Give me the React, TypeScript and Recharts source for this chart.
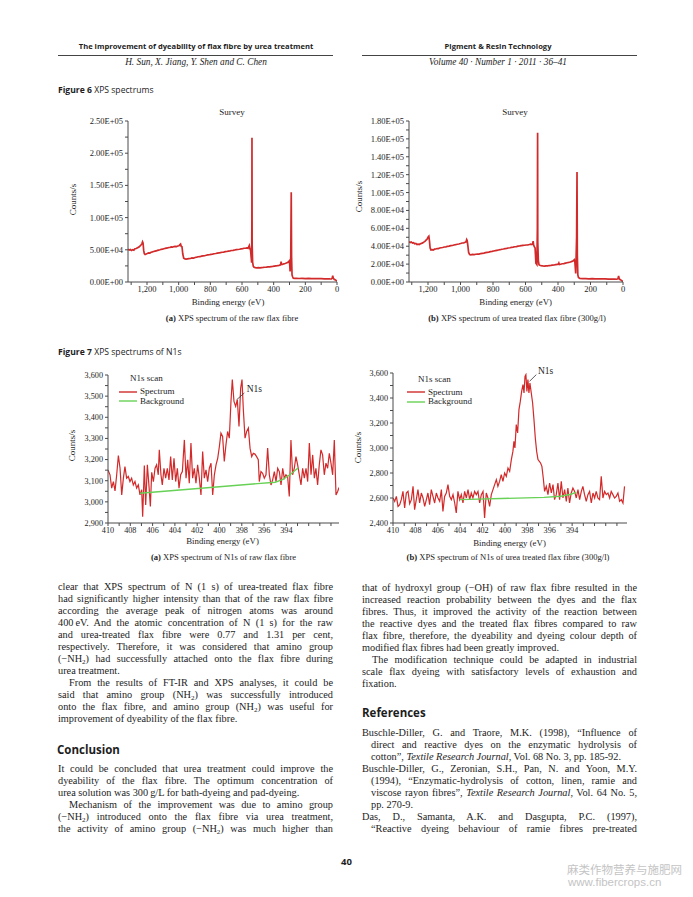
import React from "react";
import { LineChart, Line, XAxis, YAxis, ReferenceLine } from "recharts";

const RED = "#d22a2a";
const GREEN = "#66d155";
const AXIS = "#4a4a4a";
const INK = "#1d1d1d";
const SERIF = "'Liberation Serif', 'Times New Roman', serif";
const SANS = "'Open Sans', 'Liberation Sans', Arial, sans-serif";

// Figure 6(a) survey, raw flax fibre
const rawSurveyEnergy = [
  1320, 1312, 1305, 1298, 1290, 1283, 1276, 1268, 1260, 1252,
  1245, 1238, 1232, 1228, 1225, 1221, 1217, 1212, 1205, 1198,
  1190, 1182, 1174, 1166, 1158, 1150, 1142, 1134, 1126, 1118,
  1110, 1102, 1094, 1086, 1078, 1070, 1062, 1054, 1046, 1038,
  1030, 1022, 1014, 1006, 998, 992, 988, 984, 979, 974,
  968, 960, 952, 944, 936, 926, 916, 906, 896, 886,
  876, 866, 856, 846, 836, 826, 816, 806, 796, 786,
  776, 766, 756, 746, 736, 726, 716, 706, 696, 686,
  676, 666, 656, 646, 636, 626, 616, 606, 596, 586,
  576, 568, 562, 557, 554, 550, 546, 542, 539, 537.5,
  537, 536, 533, 529, 524, 516, 506, 496, 486, 476,
  466, 456, 446, 436, 426, 416, 406, 396, 386, 376,
  366, 356, 353, 350, 344, 336, 328, 320, 312, 306,
  302, 299, 296, 292, 289, 287, 284, 281, 276, 268,
  256, 240, 220, 200, 180, 160, 140, 120, 100, 80,
  60, 45, 35, 30, 27, 24, 18, 10, 4, 0,
];
const rawSurveyCounts = [
  50700, 49600, 50400, 49100, 50300, 49500, 51600, 52000, 53300, 54100,
  55600, 57400, 59600, 62400, 60800, 49000, 44000, 42800, 43600, 44200,
  45300, 44900, 46200, 46700, 47300, 47900, 48200, 49100, 49600, 50000,
  50800, 50900, 51700, 52100, 52600, 52900, 53600, 53800, 54400, 54100,
  55000, 55300, 55100, 55900, 56300, 57900, 58800, 55400, 54800, 43500,
  37000, 35900, 35400, 35800, 36200, 36500, 37300, 37200, 38100, 38600,
  39200, 39300, 40100, 40600, 40800, 41500, 42000, 42300, 43000, 43300,
  43900, 44200, 44800, 45100, 45700, 46200, 46500, 47100, 47400, 48000,
  48300, 48900, 49100, 49700, 50200, 50500, 50900, 51400, 51800, 52400,
  52700, 53100, 52300, 55000, 56600, 51800, 49500, 38000, 30000, 100000,
  224000, 60000, 31000, 24500, 23000, 22400, 21900, 22200, 21900, 22400,
  22600, 22900, 23100, 23400, 23600, 24000, 24200, 24600, 25000, 25400,
  25900, 26600, 31500, 27500, 27300, 28200, 28800, 29500, 30300, 31400,
  32600, 28000, 16500, 40000, 139500, 40000, 11000, 8500, 5800, 5500,
  5800, 5400, 5600, 5300, 5500, 5200, 5300, 5100, 5200, 5000,
  4800, 4700, 4900, 6000, 10000, 6200, 4300, 3200, 2000, 1200,
];

// Figure 6(b) survey, urea treated flax fibre
const ureaSurveyEnergy = [
  1317, 1310, 1303, 1296, 1289, 1282, 1275, 1268, 1261, 1254,
  1247, 1240, 1233, 1226, 1219, 1212, 1205, 1199, 1195, 1191,
  1187, 1182, 1175, 1168, 1160, 1152, 1144, 1136, 1128, 1120,
  1110, 1100, 1090, 1080, 1070, 1060, 1050, 1040, 1030, 1020,
  1010, 1000, 990, 980, 972, 966, 962, 959, 955, 950,
  944, 936, 926, 916, 906, 896, 886, 876, 866, 856,
  846, 836, 826, 816, 806, 796, 786, 776, 766, 756,
  746, 736, 726, 716, 706, 696, 686, 676, 666, 656,
  646, 636, 626, 616, 606, 596, 586, 576, 568, 561,
  556, 553, 550, 546, 541, 536, 530, 527, 525.5, 524.5,
  521, 517, 512, 504, 494, 484, 474, 464, 454, 444,
  434, 424, 414, 404, 398, 395, 392, 384, 374, 364,
  354, 344, 334, 324, 314, 306, 300, 296, 291, 285.5,
  283, 281, 278, 274, 266, 250, 230, 210, 190, 170,
  150, 130, 110, 90, 70, 50, 38, 31, 27, 23,
  16, 8, 3, 0,
];
const ureaSurveyCounts = [
  44900, 44200, 44800, 43600, 43900, 42700, 43100, 42000, 42400, 41900,
  42800, 43200, 43700, 44600, 45400, 46800, 48100, 50400, 51200, 46000,
  38000, 35900, 36200, 35800, 36700, 36900, 37400, 37300, 38000, 38300,
  38600, 39100, 39300, 39900, 40100, 40600, 40800, 41400, 41700, 42200,
  42500, 43000, 43600, 43800, 44400, 44900, 47400, 46300, 41000, 33000,
  30800, 30400, 30900, 30600, 31000, 31300, 31200, 31800, 32100, 32300,
  32800, 33200, 33400, 33900, 34200, 34700, 35000, 35400, 35800, 36100,
  36600, 36900, 37300, 37600, 38000, 38300, 38700, 39000, 39400, 39600,
  40100, 40300, 40600, 40900, 41100, 41400, 41600, 41900, 42400, 41900,
  42700, 45800, 41200, 39500, 38000, 21000, 19500, 60000, 167000, 45000,
  24000, 19300, 18800, 18300, 18000, 17800, 18100, 18000, 18400, 18500,
  18900, 19000, 19400, 19600, 20100, 21200, 19500, 19900, 20400, 20600,
  21100, 21500, 21900, 22400, 23000, 23800, 25000, 22000, 9500, 50000,
  123000, 30000, 8000, 5000, 3900, 3700, 3800, 3600, 3700, 3500,
  3600, 3400, 3500, 3300, 3300, 3200, 3100, 3700, 6700, 3400,
  2600, 1500, 800, 400,
];

// Figure 7(a) N1s, raw flax fibre
const rawN1sEnergy = [
  410.0, 409.82, 409.67, 409.52, 409.37, 409.22, 409.07, 408.92, 408.77, 408.62,
  408.48, 408.33, 408.18, 408.03, 407.88, 407.73, 407.58, 407.43, 407.28, 407.13,
  406.98, 406.89, 406.74, 406.62, 406.47, 406.32, 406.2, 406.08, 405.93, 405.78,
  405.64, 405.49, 405.4, 405.25, 405.13, 404.98, 404.83, 404.68, 404.53, 404.38,
  404.23, 404.08, 403.93, 403.78, 403.63, 403.48, 403.33, 403.15, 403.0, 402.85,
  402.71, 402.56, 402.41, 402.26, 402.11, 401.96, 401.81, 401.66, 401.51, 401.36,
  401.21, 401.06, 400.91, 400.76, 400.61, 400.46, 400.31, 400.16, 400.01, 399.87,
  399.72, 399.57, 399.42, 399.27, 399.12, 398.97, 398.85, 398.7, 398.55, 398.4,
  398.25, 398.1, 397.98, 397.86, 397.71, 397.56, 397.41, 397.26, 397.11, 396.97,
  396.82, 396.67, 396.52, 396.43, 396.28, 396.13, 395.98, 395.83, 395.68, 395.53,
  395.38, 395.23, 395.08, 394.93, 394.78, 394.63, 394.48, 394.33, 394.19, 394.04,
  393.89, 393.74, 393.59, 393.44, 393.29, 393.14, 392.99, 392.84, 392.69, 392.54,
  392.39, 392.24, 392.09, 391.94, 391.79, 391.64, 391.49, 391.35, 391.2, 391.05,
  390.9, 390.75, 390.6, 390.45, 390.3, 390.15, 390.0, 389.85, 389.7, 389.55,
  389.4, 389.28,
];
const rawN1sCounts = [
  3151, 3128, 3065, 3096, 3052, 3128, 3219, 3159, 3033, 3112,
  3167, 3112, 3120, 3096, 3112, 3080, 3096, 3065, 3080, 3033,
  3057, 2930, 3172, 2985, 3175, 3072, 2978, 3140, 3096, 3159,
  3175, 3128, 3246, 3128, 3080, 3159, 3112, 3159, 3104, 3214,
  3104, 3206, 3096, 3159, 3065, 3128, 3143, 3293, 3112, 3199,
  3088, 3278, 3112, 3159, 3088, 3175, 3112, 3033, 3238, 3112,
  3151, 3096, 3159, 3183, 3033, 3128, 3175, 3206, 3262, 3325,
  3309, 3191, 3270, 3333, 3301, 3475, 3578, 3475, 3452, 3483,
  3357, 3538, 3578, 3436, 3301, 3333, 3349, 3254, 3214, 3230,
  3226, 3214, 3199, 3096, 3143, 3135, 3112, 3128, 3254, 3128,
  3080, 3104, 3143, 3096, 3159, 3143, 3080, 3159, 3112, 3128,
  3120, 3025, 3293, 3128, 3159, 3214, 3175, 3128, 3080, 3159,
  3112, 3159, 3096, 3278, 3128, 3222, 3112, 3159, 3080, 3175,
  3246, 3222, 3128, 3183, 3159, 3230, 3183, 3128, 3293, 3033,
  3049, 3068,
];
const rawBgEnergy = [407.13, 395.0, 394.3, 393.6, 392.96];
const rawBgCounts = [3041, 3093, 3106, 3132, 3160];

// Figure 7(b) N1s, urea treated flax fibre
const ureaN1sEnergy = [
  410.0, 409.85, 409.7, 409.55, 409.4, 409.26, 409.11, 408.96, 408.81, 408.66,
  408.51, 408.36, 408.21, 408.07, 407.92, 407.77, 407.62, 407.47, 407.32, 407.17,
  407.02, 406.88, 406.73, 406.58, 406.43, 406.28, 406.13, 405.98, 405.83, 405.68,
  405.54, 405.39, 405.24, 405.09, 404.94, 404.79, 404.64, 404.49, 404.35, 404.2,
  404.05, 403.9, 403.75, 403.6, 403.45, 403.3, 403.15, 403.01, 402.86, 402.71,
  402.56, 402.41, 402.26, 402.11, 401.96, 401.82, 401.67, 401.52, 401.37, 401.22,
  401.07, 400.92, 400.77, 400.63, 400.48, 400.33, 400.18, 400.03, 399.88, 399.73,
  399.58, 399.43, 399.29, 399.2, 399.11, 398.99, 398.87, 398.75, 398.63, 398.51,
  398.39, 398.3, 398.21, 398.13, 398.04, 397.95, 397.86, 397.77, 397.65, 397.53,
  397.41, 397.29, 397.17, 397.05, 396.93, 396.82, 396.7, 396.58, 396.46, 396.31,
  396.16, 396.01, 395.86, 395.71, 395.57, 395.42, 395.27, 395.12, 394.97, 394.82,
  394.67, 394.52, 394.38, 394.23, 394.08, 393.93, 393.78, 393.63, 393.48, 393.33,
  393.18, 393.04, 392.89, 392.74, 392.59, 392.44, 392.29, 392.14, 391.99, 391.85,
  391.7, 391.55, 391.4, 391.25, 391.1, 390.95, 390.8, 390.65, 390.51, 390.36,
  390.21, 390.06, 389.91, 389.76, 389.61, 389.46, 389.32,
];
const ureaN1sCounts = [
  2600, 2573, 2613, 2533, 2547, 2587, 2653, 2520, 2640, 2653,
  2555, 2587, 2693, 2507, 2587, 2667, 2560, 2640, 2600, 2533,
  2587, 2640, 2547, 2667, 2613, 2560, 2640, 2600, 2573, 2667,
  2493, 2613, 2640, 2707, 2613, 2587, 2627, 2560, 2480, 2653,
  2587, 2627, 2560, 2653, 2600, 2667, 2587, 2640, 2600, 2653,
  2627, 2653, 2560, 2627, 2653, 2440, 2640, 2600, 2533, 2627,
  2667, 2707, 2747, 2693, 2733, 2787, 2733, 2800, 2773, 2840,
  2813, 2907, 2973, 3053, 3000, 3187, 3120, 3307, 3373, 3453,
  3507, 3440, 3573, 3587, 3453, 3547, 3440, 3520, 3440, 3360,
  3227, 3080, 2973, 2907, 2893, 2880, 2853, 2760, 2653, 2693,
  2627, 2720, 2640, 2707, 2587, 2627, 2720, 2587, 2733, 2600,
  2667, 2573, 2680, 2560, 2640, 2680, 2653, 2600, 2667, 2587,
  2653, 2693, 2627, 2573, 2627, 2653, 2560, 2640, 2600, 2653,
  2600, 2587, 2773, 2600, 2653, 2627, 2640, 2600, 2653, 2627,
  2600, 2613, 2640, 2573, 2587, 2560, 2693,
];
const ureaBgEnergy = [404.05, 396.5, 395.0, 394.2, 393.63];
const ureaBgCounts = [2587, 2605, 2614, 2628, 2645];

// axis ticks
const surveyXTicks = [0, 100, 200, 300, 400, 500, 600, 700, 800, 900, 1000, 1100, 1200, 1300];
const rawSurveyYTicks = [0, 25000, 50000, 75000, 100000, 125000, 150000, 175000, 200000, 225000, 250000];
const ureaSurveyYTicks = [
  0, 10000, 20000, 30000, 40000, 50000, 60000, 70000, 80000, 90000,
  100000, 110000, 120000, 130000, 140000, 150000, 160000, 170000, 180000,
];
const n1sXTicks = [
  390, 391, 392, 393, 394, 395, 396, 397, 398, 399, 400,
  401, 402, 403, 404, 405, 406, 407, 408, 409, 410,
];
const rawN1sYTicks = [2900, 2950, 3000, 3050, 3100, 3150, 3200, 3250, 3300, 3350, 3400, 3450, 3500, 3550, 3600];
const ureaN1sYTicks = [2400, 2500, 2600, 2700, 2800, 2900, 3000, 3100, 3200, 3300, 3400, 3500, 3600];

type Pt = { e: number; c: number };
const pair = (es: number[], cs: number[]): Pt[] => es.map((e, i) => ({ e, c: cs[i] }));

const sci = (v: number) => {
  const [m, p] = v.toExponential(2).split("e");
  const n = Number(p);
  return `${m}E${n < 0 ? "-" : "+"}${String(Math.abs(n)).padStart(2, "0")}`;
};
const comma = (v: number) => v.toLocaleString("en-US");

type Seg = [{ x: number; y: number }, { x: number; y: number }];

function Spectrum(p: {
  left: number; top: number; width: number; height: number; yWidth: number;
  xDomain: [number, number]; yDomain: [number, number];
  xTicks: number[]; yTicks: number[];
  xLabel: (v: number) => string; yLabel: (v: number) => string;
  spectrum: Pt[]; background?: Pt[]; leader?: Seg;
  fontSize: number; stroke: number;
}) {
  const tick = { fontSize: p.fontSize, fill: INK, fontFamily: SERIF };
  return (
    <div style={{ position: "absolute", left: p.left, top: p.top }}>
      <LineChart width={p.width} height={p.height} margin={{ top: 11, right: 8, bottom: 0, left: 0 }}>
        <XAxis
          type="number" dataKey="e" domain={p.xDomain} reversed allowDataOverflow
          ticks={p.xTicks} interval={0} tickFormatter={p.xLabel}
          height={20} tickSize={3} tickMargin={1}
          axisLine={{ stroke: AXIS }} tickLine={{ stroke: AXIS }} tick={tick}
        />
        <YAxis
          type="number" dataKey="c" domain={p.yDomain} allowDataOverflow
          ticks={p.yTicks} interval={0} tickFormatter={p.yLabel}
          width={p.yWidth} tickSize={3} tickMargin={2}
          axisLine={{ stroke: AXIS }} tickLine={{ stroke: AXIS }} tick={tick}
        />
        <Line data={p.spectrum} dataKey="c" type="linear" stroke={RED} strokeWidth={p.stroke} dot={false} isAnimationActive={false} />
        {p.background && (
          <Line data={p.background} dataKey="c" type="linear" stroke={GREEN} strokeWidth={1.4} dot={false} isAnimationActive={false} />
        )}
        {p.leader && <ReferenceLine segment={p.leader} stroke="#333" strokeWidth={0.8} ifOverflow="visible" />}
      </LineChart>
    </div>
  );
}

function Txt(props: {
  x?: number; cx?: number; cy: number; size: number; font?: string; weight?: number;
  italic?: boolean; color?: string; children: React.ReactNode;
}) {
  const { x, cx, cy, size, font = SERIF, weight = 400, italic = false, color = INK, children } = props;
  const base: React.CSSProperties = {
    position: "absolute", top: cy - size * 0.6, fontSize: size, lineHeight: `${size * 1.2}px`,
    fontFamily: font, fontWeight: weight, fontStyle: italic ? "italic" : "normal", color, whiteSpace: "nowrap",
  };
  if (cx !== undefined) return <div style={{ ...base, left: cx - 200, width: 400, textAlign: "center" }}>{children}</div>;
  return <div style={{ ...base, left: x }}>{children}</div>;
}

function VTxt({ cx, cy, size, children }: { cx: number; cy: number; size: number; children: React.ReactNode }) {
  return (
    <div
      style={{
        position: "absolute", left: cx - 60, top: cy - size * 0.6, width: 120, textAlign: "center",
        fontSize: size, lineHeight: `${size * 1.2}px`, fontFamily: SERIF, color: INK,
        transform: "rotate(-90deg)", whiteSpace: "nowrap",
      }}
    >
      {children}
    </div>
  );
}

// legend keys drawn as small svg strokes so the colour survives
function Key({ x, y, color }: { x: number; y: number; color: string }) {
  return (
    <svg style={{ position: "absolute", left: x, top: y - 2 }} width={18} height={4}>
      <line x1={0} y1={2} x2={18} y2={2} stroke={color} strokeWidth={1.4} />
    </svg>
  );
}

function N1sLegend({ lx, ty }: { lx: number; ty: number }) {
  return (
    <>
      <Txt x={lx + 11} cy={ty} size={9}>N1s scan</Txt>
      <Key x={lx} y={ty + 13} color={RED} />
      <Txt x={lx + 21} cy={ty + 13} size={9}>Spectrum</Txt>
      <Key x={lx} y={ty + 22.5} color={GREEN} />
      <Txt x={lx + 21} cy={ty + 22.5} size={9}>Background</Txt>
    </>
  );
}

const subStyle: React.CSSProperties = { fontSize: 7, verticalAlign: "baseline", position: "relative", top: 2 };
const S2 = <sub style={subStyle}>2</sub>;

function Para({ x, y, w, lines, indent = 0, hang = 0, ends = true }: {
  x: number; y: number; w: number; lines: React.ReactNode[]; indent?: number; hang?: number; ends?: boolean;
}) {
  return (
    <>
      {lines.map((ln, i) => {
        const last = ends && i === lines.length - 1;
        const off = i === 0 ? indent : hang;
        return (
          <div
            key={i}
            style={{
              position: "absolute", left: x + off, top: y + i * 12 - 6, width: w - off, height: 12,
              lineHeight: "12px", fontSize: 10.3, fontFamily: SERIF, color: INK,
              textAlign: last ? "left" : "justify", textAlignLast: last ? "left" : "justify",
              whiteSpace: last ? "nowrap" : "normal",
            }}
          >
            {ln}
          </div>
        );
      })}
    </>
  );
}

const LQ = "\u201c";
const RQ = "\u201d";

const paraXps = [
  "clear that XPS spectrum of N (1 s) of urea-treated flax fibre",
  "had significantly higher intensity than that of the raw flax fibre",
  "according the average peak of nitrogen atoms was around",
  "400\u2009eV. And the atomic concentration of N (1 s) for the raw",
  "and urea-treated flax fibre were 0.77 and 1.31 per cent,",
  "respectively. Therefore, it was considered that amino group",
  <>(−NH{S2}) had successfully attached onto the flax fibre during</>,
  "urea treatment.",
];
const paraFtir = [
  "From the results of FT-IR and XPS analyses, it could be",
  <>said that amino group (NH{S2}) was successfully introduced</>,
  <>onto the flax fibre, and amino group (NH{S2}) was useful for</>,
  "improvement of dyeability of the flax fibre.",
];
const paraConc1 = [
  "It could be concluded that urea treatment could improve the",
  "dyeability of the flax fibre. The optimum concentration of",
  "urea solution was 300\u2009g/L for bath-dyeing and pad-dyeing.",
];
const paraConc2 = [
  "Mechanism of the improvement was due to amino group",
  <>(−NH{S2}) introduced onto the flax fibre via urea treatment,</>,
  <>the activity of amino group (−NH{S2}) was much higher than</>,
];
const paraConc3 = [
  "that of hydroxyl group (−OH) of raw flax fibre resulted in the",
  "increased reaction probability between the dyes and the flax",
  "fibres. Thus, it improved the activity of the reaction between",
  "the reactive dyes and the treated flax fibres compared to raw",
  "flax fibre, therefore, the dyeability and dyeing colour depth of",
  "modified flax fibres had been greatly improved.",
];
const paraConc4 = [
  "The modification technique could be adapted in industrial",
  "scale flax dyeing with satisfactory levels of exhaustion and",
  "fixation.",
];
const ref1 = [
  `Buschle-Diller, G. and Traore, M.K. (1998), ${LQ}Influence of`,
  "direct and reactive dyes on the enzymatic hydrolysis of",
  <>{`cotton${RQ}, `}<i>Textile Research Journal</i>{", Vol. 68 No. 3, pp. 185-92."}</>,
];
const ref2 = [
  "Buschle-Diller, G., Zeronian, S.H., Pan, N. and Yoon, M.Y.",
  `(1994), ${LQ}Enzymatic-hydrolysis of cotton, linen, ramie and`,
  <>{`viscose rayon fibres${RQ}, `}<i>Textile Research Journal</i>{", Vol. 64 No. 5,"}</>,
  "pp. 270-9.",
];
const ref3 = [
  "Das, D., Samanta, A.K. and Dasgupta, P.C. (1997),",
  `${LQ}Reactive dyeing behaviour of ramie fibres pre-treated`,
];

const surveyX = (v: number) => (v % 200 === 0 && v <= 1200 ? comma(v) : "");
const n1sX = (v: number) => (v % 2 === 0 && v >= 394 ? String(v) : "");

export default function App() {
  return (
    <div style={{ position: "absolute", left: 0, top: 0, width: 693, height: 897, overflow: "hidden", background: "#fff" }}>
      {/* running head */}
      <Txt cx={196} cy={47} size={7.6} font={SANS} weight={700}>The improvement of dyeability of flax fibre by urea treatment</Txt>
      <div style={{ position: "absolute", left: 58, top: 54.5, width: 275, height: 0.8, background: "#444" }} />
      <Txt cx={196} cy={62.5} size={9.3} italic>H. Sun, X. Jiang, Y. Shen and C. Chen</Txt>
      <Txt cx={498} cy={47} size={7.6} font={SANS} weight={700}>Pigment &amp; Resin Technology</Txt>
      <div style={{ position: "absolute", left: 362, top: 54.5, width: 275, height: 0.8, background: "#444" }} />
      <Txt cx={498} cy={62.5} size={9.3} italic>Volume 40 · Number 1 · 2011 · 36–41</Txt>

      {/* Figure 6 */}
      <Txt x={58} cy={90} size={8.6} font={SANS}><b>Figure 6</b> XPS spectrums</Txt>
      <Spectrum
        left={58} top={110} width={287} height={192} yWidth={70}
        xDomain={[0, 1320]} yDomain={[0, 250000]}
        xTicks={surveyXTicks} yTicks={rawSurveyYTicks}
        xLabel={surveyX} yLabel={(v) => (v % 50000 === 0 ? sci(v) : "")}
        spectrum={pair(rawSurveyEnergy, rawSurveyCounts)} fontSize={8.5} stroke={1.7}
      />
      <Spectrum
        left={345} top={110} width={286} height={192} yWidth={64}
        xDomain={[0, 1317]} yDomain={[0, 180000]}
        xTicks={surveyXTicks} yTicks={ureaSurveyYTicks}
        xLabel={surveyX} yLabel={(v) => (v % 20000 === 0 ? sci(v) : "")}
        spectrum={pair(ureaSurveyEnergy, ureaSurveyCounts)} fontSize={8.5} stroke={1.7}
      />
      <Txt cx={232} cy={112} size={9}>Survey</Txt>
      <Txt cx={515} cy={112} size={9}>Survey</Txt>
      <VTxt cx={72.5} cy={199} size={9}>Counts/s</VTxt>
      <VTxt cx={359} cy={196} size={9}>Counts/s</VTxt>
      <Txt cx={228} cy={302} size={8.8}>Binding energy (eV)</Txt>
      <Txt cx={515.7} cy={302} size={8.8}>Binding energy (eV)</Txt>
      <Txt cx={232} cy={318.5} size={8.6}><b>(a)</b> XPS spectrum of the raw flax fibre</Txt>
      <Txt cx={517} cy={318.5} size={8.6}><b>(b)</b> XPS spectrum of urea treated flax fibre (300g/l)</Txt>

      {/* Figure 7 */}
      <Txt x={58} cy={352} size={8.6} font={SANS}><b>Figure 7</b> XPS spectrums of N1s</Txt>
      <Spectrum
        left={50} top={364} width={297} height={179} yWidth={58}
        xDomain={[389.28, 410]} yDomain={[2900, 3600]}
        xTicks={n1sXTicks} yTicks={rawN1sYTicks}
        xLabel={n1sX} yLabel={(v) => (v % 100 === 0 ? comma(v) : "")}
        spectrum={pair(rawN1sEnergy, rawN1sCounts)} background={pair(rawBgEnergy, rawBgCounts)}
        leader={[{ x: 398.46, y: 3483 }, { x: 397.77, y: 3515 }]} fontSize={8.2} stroke={1.2}
      />
      <Spectrum
        left={345} top={362} width={290} height={181} yWidth={48}
        xDomain={[389.1, 410]} yDomain={[2400, 3600]}
        xTicks={n1sXTicks} yTicks={ureaN1sYTicks}
        xLabel={n1sX} yLabel={(v) => (v % 200 === 0 ? comma(v) : "")}
        spectrum={pair(ureaN1sEnergy, ureaN1sCounts)} background={pair(ureaBgEnergy, ureaBgCounts)}
        leader={[{ x: 397.8, y: 3534 }, { x: 397.2, y: 3587 }]} fontSize={8.2} stroke={1.2}
      />
      <N1sLegend lx={119} ty={378.5} />
      <N1sLegend lx={407} ty={379} />
      <Txt x={246.7} cy={389.5} size={9.5}>N1s</Txt>
      <Txt x={538} cy={372} size={9.5}>N1s</Txt>
      <VTxt cx={72} cy={445} size={9}>Counts/s</VTxt>
      <VTxt cx={358} cy={447} size={9}>Counts/s</VTxt>
      <Txt cx={222.5} cy={541.7} size={8.8}>Binding energy (eV)</Txt>
      <Txt cx={509.5} cy={543} size={8.8}>Binding energy (eV)</Txt>
      <Txt cx={223.5} cy={557.5} size={8.6}><b>(a)</b> XPS spectrum of N1s of raw flax fibre</Txt>
      <Txt cx={508} cy={557.5} size={8.6}><b>(b)</b> XPS spectrum of N1s of urea treated flax fibre (300g/l)</Txt>

      {/* body text, left column */}
      <Para x={58} y={587} w={275} lines={paraXps} />
      <Para x={58} y={683} w={275} lines={paraFtir} indent={11} />
      <Txt x={57} cy={750} size={11.5} font={SANS} weight={700}>Conclusion</Txt>
      <Para x={58} y={769} w={275} lines={paraConc1} />
      <Para x={58} y={805} w={275} lines={paraConc2} indent={11} ends={false} />

      {/* body text, right column */}
      <Para x={362} y={588} w={275} lines={paraConc3} />
      <Para x={362} y={660} w={275} lines={paraConc4} indent={10} />
      <Txt x={362} cy={713} size={11.5} font={SANS} weight={700}>References</Txt>
      <Para x={362} y={733} w={275} lines={ref1} hang={9} />
      <Para x={362} y={769} w={275} lines={ref2} hang={9} />
      <Para x={362} y={817} w={275} lines={ref3} hang={9} ends={false} />

      {/* folio and watermark */}
      <Txt cx={346.5} cy={862} size={9.5} font={SANS} weight={700}>40</Txt>
      <Txt x={567} cy={870} size={11.5} font="'Noto Sans CJK SC', sans-serif" color="#c4c4c4">麻类作物营养与施肥网</Txt>
      <Txt x={568} cy={883} size={11.5} font="'Liberation Sans', Arial, sans-serif" color="#c4c4c4">www.fibercrops.cn</Txt>
    </div>
  );
}
